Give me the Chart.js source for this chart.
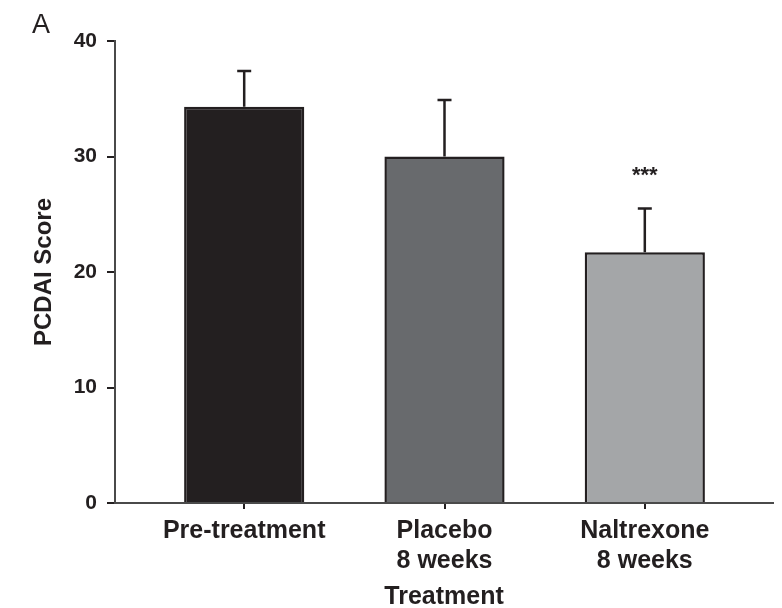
<!DOCTYPE html>
<html>
<head>
<meta charset="utf-8">
<script src="https://cdn.jsdelivr.net/npm/chart.js@4/dist/chart.umd.min.js"></script>
<style>
  html, body { margin: 0; padding: 0; background: #ffffff; }
  #wrap { position: relative; width: 782px; height: 608px; }
</style>
</head>
<body>
<div id="wrap"><canvas id="c" width="782" height="608"></canvas></div>
<script>
// PCDAI score by treatment group (mean with upper SEM whisker)
const categories = [["Pre-treatment"], ["Placebo", "8 weeks"], ["Naltrexone", "8 weeks"]];
const meanScores = [34.3, 30.0, 21.7];
const semUpper = [3.1, 4.9, 3.8];
const significance = ["", "", "***"];
const yTicks = [0, 10, 20, 30, 40];

const barFills = ["#231f20", "#686a6d", "#a4a6a8"];
const ink = "#231f20";
const FONT = "'Liberation Sans', Arial, Helvetica, sans-serif";

const positions = categories.map((_, i) => i + 1);

const errorBars = {
  id: "errorBars",
  afterDatasetsDraw(chart) {
    const ctx = chart.ctx;
    const y = chart.scales.y;
    const meta = chart.getDatasetMeta(0);
    ctx.save();
    ctx.strokeStyle = ink;
    ctx.lineWidth = 2.5;
    meta.data.forEach((bar, i) => {
      const top = y.getPixelForValue(meanScores[i] + semUpper[i]);
      const base = y.getPixelForValue(meanScores[i]);
      ctx.beginPath();
      ctx.moveTo(bar.x, base);
      ctx.lineTo(bar.x, top);
      ctx.moveTo(bar.x - 7, top);
      ctx.lineTo(bar.x + 7, top);
      ctx.stroke();
      if (significance[i]) {
        ctx.fillStyle = ink;
        ctx.font = "bold 22px " + FONT;
        ctx.textAlign = "center";
        ctx.textBaseline = "middle";
        ctx.fillText(significance[i], bar.x, top - 33);
      }
    });
    ctx.restore();
  }
};

const panelLetter = {
  id: "panelLetter",
  afterDraw(chart) {
    const ctx = chart.ctx;
    ctx.save();
    ctx.fillStyle = ink;
    ctx.font = "27px " + FONT;
    ctx.textAlign = "left";
    ctx.textBaseline = "alphabetic";
    ctx.fillText("A", 32, 33);
    ctx.restore();
  }
};

new Chart(document.getElementById("c"), {
  type: "bar",
  data: {
    datasets: [{
      data: positions.map((p, i) => ({ x: p, y: meanScores[i] })),
      backgroundColor: barFills,
      borderColor: ink,
      borderWidth: 2.5,
      borderSkipped: "start",
      categoryPercentage: 0.6,
      barPercentage: 1.0
    }]
  },
  options: {
    responsive: false,
    animation: false,
    devicePixelRatio: 1,
    layout: { padding: { top: 41, right: 9, bottom: 0, left: 0 } },
    plugins: { legend: { display: false }, tooltip: { enabled: false } },
    scales: {
      x: {
        type: "linear",
        offset: false,
        min: 0.355,
        max: 3.64,
        afterBuildTicks(scale) { scale.ticks = positions.map(v => ({ value: v })); },
        afterFit(scale) { scale.height = 105; },
        grid: { display: true, offset: false, drawOnChartArea: false, drawTicks: true, tickLength: 6, tickColor: ink, lineWidth: 2 },
        border: { display: true, color: "#4a4a4a", width: 2 },
        ticks: {
          autoSkip: false,
          maxRotation: 0,
          padding: 7,
          color: ink,
          font: { family: FONT, size: 25, weight: "bold", lineHeight: 1.2 },
          callback(value) {
            const i = positions.indexOf(value);
            return i >= 0 ? categories[i] : "";
          }
        },
        title: {
          display: true,
          text: "Treatment",
          color: ink,
          font: { family: FONT, size: 25, weight: "bold", lineHeight: 0.9 },
          padding: { top: 0, bottom: 0 }
        }
      },
      y: {
        min: 0,
        max: 40,
        afterBuildTicks(scale) { scale.ticks = yTicks.map(v => ({ value: v })); },
        afterFit(scale) { scale.width = 115; },
        grid: { display: true, drawOnChartArea: false, drawTicks: true, tickLength: 8, tickColor: ink, lineWidth: 2 },
        border: { display: true, color: "#4a4a4a", width: 2 },
        ticks: {
          padding: 10,
          color: ink,
          font: { family: FONT, size: 21, weight: "bold" }
        },
        title: {
          display: true,
          text: "PCDAI Score",
          color: ink,
          font: { family: FONT, size: 24, weight: "bold" },
          padding: { top: 30, bottom: 0 }
        }
      }
    }
  },
  plugins: [errorBars, panelLetter]
});
</script>
</body>
</html>
